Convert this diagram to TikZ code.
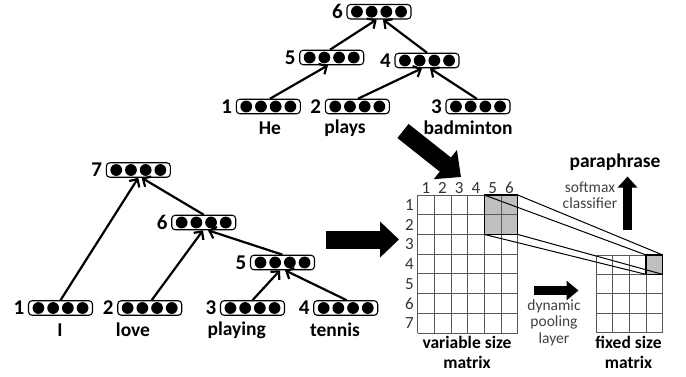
\documentclass[tikz,border=0pt]{standalone}
\usepackage{fontspec}
\setmainfont{Carlito}
\usetikzlibrary{arrows.meta,calc}
\begin{document}
\begin{tikzpicture}[x=1pt,y=-1pt,
  vecbox/.style={draw, line width=1.1pt, rounded corners=3.5pt, minimum width=64pt, minimum height=14.5pt, inner sep=0pt,
    path picture={\foreach \k in {-1.5,-0.5,0.5,1.5}{\fill ([xshift=\k*14.7pt]path picture bounding box.center) circle (5.9pt);}}},
  numlab/.style={font=\bfseries\fontsize{21}{21}\selectfont, inner sep=0pt},
  word/.style={font=\bfseries\fontsize{19.5}{19.5}\selectfont, inner sep=0pt},
  caption/.style={font=\bfseries\fontsize{17.5}{20}\selectfont, inner sep=0pt, align=center},
  small/.style={font=\fontsize{15.5}{16.5}\selectfont, text=black!75, inner sep=0pt, align=center},
  digit/.style={font=\fontsize{17}{17}\selectfont, text=black!80, inner sep=0pt},
  arr/.style={line width=2.2pt, -{Straight Barb[length=6pt,width=12pt]}},
  gridline/.style={draw=black!65, line width=0.8pt},
  bigarrow/.style={line width=18pt, -{Triangle[length=20pt,width=36pt]}},
  midarrow/.style={line width=9pt, -{Triangle[length=12pt,width=19pt]}},
]
\useasboundingbox (0,0) rectangle (686,376);

% ---------- top tree ----------
\node[vecbox, label={[numlab,label distance=3.5pt]left:6}] (T6) at (379,11.7) {};
\node[vecbox, label={[numlab,label distance=3.5pt]left:5}] (T5) at (331.7,57.5) {};
\node[vecbox, label={[numlab,label distance=3.5pt]left:4}] (T4) at (427,60.5) {};
\node[vecbox, label={[numlab,label distance=3.5pt]left:1}] (T1) at (268.3,106.5) {};
\node[vecbox, label={[numlab,label distance=3.5pt]left:2}] (T2) at (357.3,106.5) {};
\node[vecbox, label={[numlab,label distance=3.5pt]left:3}] (T3) at (478,106.5) {};
\node[word] (wHe) at (270,128) {He};
\node[word] (wplays) at (345,128) {plays};
\node[word] (wbad) at (468,128) {badminton};

\draw[arr] ([xshift=1.7pt]T1.north) -- ([xshift=-3.7pt]T5.south);
\draw[arr] ([xshift=0.7pt]T2.north) -- ([xshift=-5pt]T4.south);
\draw[arr] ([xshift=-1.3pt]T3.north) -- ([xshift=3pt]T4.south);
\draw[arr] ([xshift=-1.7pt]T5.north) -- ([xshift=-2.3pt]T6.south);
\draw[arr] ([xshift=0pt]T4.north) -- ([xshift=4pt]T6.south);

% ---------- bottom tree ----------
\node[vecbox, label={[numlab,label distance=3.5pt]left:7}] (B7) at (138.3,170) {};
\node[vecbox, label={[numlab,label distance=3.5pt]left:6}] (B6) at (203.7,222.5) {};
\node[vecbox, label={[numlab,label distance=3.5pt]left:5}] (B5) at (282.5,262.5) {};
\node[vecbox, label={[numlab,label distance=3.5pt]left:1}] (B1) at (60.5,308) {};
\node[vecbox, label={[numlab,label distance=3.5pt]left:2}] (B2) at (149.7,308) {};
\node[vecbox, label={[numlab,label distance=3.5pt]left:3}] (B3) at (252.5,308) {};
\node[vecbox, label={[numlab,label distance=3.5pt]left:4}] (B4) at (345.7,308) {};
\node[word] (wI) at (60,330) {I};
\node[word] (wlove) at (133,330) {love};
\node[word] (wplaying) at (236.7,330) {playing};
\node[word] (wtennis) at (335,330) {tennis};

\draw[arr] (B1.north) -- (B7.south);
\draw[arr] ([xshift=2pt]B2.north) -- ([xshift=-0.7pt]B6.south);
\draw[arr] (B3.north) -- ([xshift=-2.5pt]B5.south);
\draw[arr] ([xshift=1pt]B4.north) -- ([xshift=2.5pt]B5.south);
\draw[arr] (B6.north) -- ([xshift=3.4pt]B7.south);
\draw[arr] (B5.north) -- ([xshift=4.3pt]B6.south);

% ---------- big arrows ----------
\coordinate (da1) at (403,131);
\coordinate (da2) at (461,177);
\draw[bigarrow] (da1) -- (da2);
\coordinate (ha1) at (326,239.5);
\coordinate (ha2) at (399,239.5);
\draw[bigarrow, -{Triangle[length=19pt,width=35pt]}] (ha1) -- (ha2);
\coordinate (pa1) at (534,290.5);
\coordinate (pa2) at (578.5,290.5);
\draw[midarrow] (pa1) -- (pa2);
\coordinate (sa1) at (627.5,229.5);
\coordinate (sa2) at (627.5,176.5);
\draw[midarrow, line width=8.5pt, -{Triangle[length=11pt,width=19pt]}] (sa1) -- (sa2);

% ---------- variable size matrix ----------
\fill[gray!50] (484.3,195) rectangle (517.7,234.4);
\foreach \i in {0,...,6} \draw[gridline] ({417.5+\i*16.7},195) -- ({417.5+\i*16.7},332.9);
\foreach \j in {0,...,7} \draw[gridline] (417.5,{195+\j*19.7}) -- (517.7,{195+\j*19.7});
\draw[line width=1.3pt] (484.3,195) rectangle (517.7,234.4);
\foreach \i in {1,...,6} \node[digit] at ({417.5+(\i-0.5)*16.7},188) {\i};
\foreach \j in {1,...,7} \node[digit] at (409.5,{195+(\j-0.5)*19.7}) {\j};

% ---------- fixed size matrix ----------
\fill[gray!50] (646.1,255) rectangle (662.8,274.4);
\foreach \i in {0,...,4} \draw[gridline] ({596+\i*16.7},255) -- ({596+\i*16.7},332.6);
\foreach \j in {0,...,4} \draw[gridline] (596,{255+\j*19.4}) -- (662.8,{255+\j*19.4});
\draw[line width=1.3pt] (646.1,255) rectangle (662.8,274.4);

% ---------- projection lines ----------
\draw[line width=1pt] (484.3,195) -- (646.1,255);
\draw[line width=1pt] (517.7,195) -- (662.8,255);
\draw[line width=1pt] (484.3,234.4) -- (646.1,274.4);
\draw[line width=1pt] (517.7,234.4) -- (662.8,274.4);

% ---------- texts ----------
\node[font=\bfseries\fontsize{19.5}{19.5}\selectfont, inner sep=0pt] (para) at (615,161.7) {paraphrase};
\node[small] (soft) at (590,195) {softmax\\classifier};
\node[small] (dyn) at (554,322.5) {dynamic\\pooling\\layer};
\node[caption] (vcap) at (467,352.5) {variable size\\matrix};
\node[caption] (fcap) at (628.5,352.5) {fixed size\\matrix};
\end{tikzpicture}
\end{document}
